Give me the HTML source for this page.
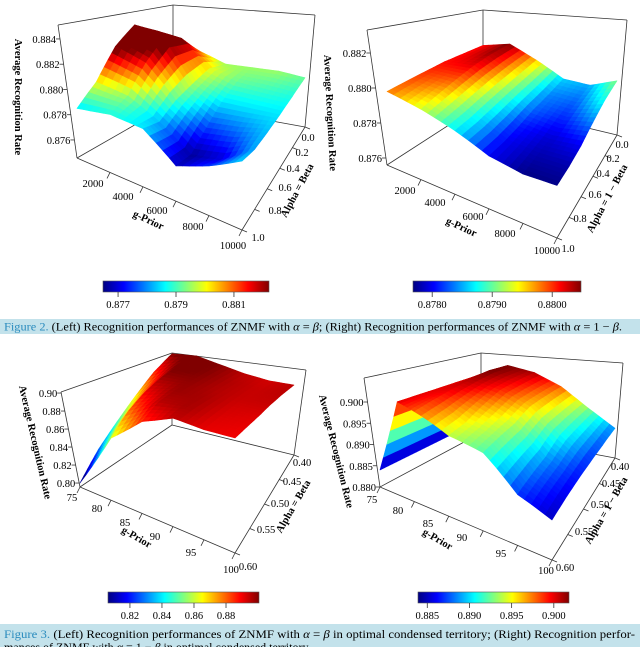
<!DOCTYPE html>
<html><head><meta charset="utf-8"><style>
html,body{margin:0;padding:0;background:#fff;}
svg{display:block;font-family:"Liberation Serif","Times New Roman",serif;}
text{font-family:"Liberation Serif","Times New Roman",serif;}
</style></head><body>
<svg id="fig" width="640" height="647" viewBox="0 0 640 647" xmlns="http://www.w3.org/2000/svg">
<defs>
<linearGradient id="jetgrad" x1="0" x2="1" y1="0" y2="0">
<stop offset="0" stop-color="#000080"/><stop offset="0.125" stop-color="#0000ff"/><stop offset="0.375" stop-color="#00ffff"/><stop offset="0.625" stop-color="#ffff00"/><stop offset="0.875" stop-color="#ff0000"/><stop offset="1" stop-color="#800000"/>
</linearGradient>
</defs>
<rect width="640" height="647" fill="#fff"/>
<g id="layer"></g>
<rect x="0" y="319" width="640" height="15" fill="#c3e2eb"/>
<text x="4" y="330.5" font-size="12" textLength="618" lengthAdjust="spacingAndGlyphs"><tspan fill="#2b8cbe">Figure 2.</tspan> (Left) Recognition performances of ZNMF with <tspan font-style="italic">α</tspan> = <tspan font-style="italic">β</tspan>; (Right) Recognition performances of ZNMF with <tspan font-style="italic">α</tspan> = 1 − <tspan font-style="italic">β</tspan>.</text>
<rect x="0" y="624" width="640" height="23" fill="#c3e2eb"/>
<text x="4" y="638" font-size="12" textLength="631" lengthAdjust="spacingAndGlyphs"><tspan fill="#2b8cbe">Figure 3.</tspan> (Left) Recognition performances of ZNMF with <tspan font-style="italic">α</tspan> = <tspan font-style="italic">β</tspan> in optimal condensed territory; (Right) Recognition perfor-</text>
<text x="4" y="651" font-size="12">mances of ZNMF with <tspan font-style="italic">α</tspan> = 1 − <tspan font-style="italic">β</tspan> in optimal condensed territory.</text>
</svg>
<script>
// ===== Panel data =====
const p1G = [0, 2000, 4000, 6000, 8000, 10000];
const p1A = [0, 0.2, 0.4, 0.6, 0.8, 1.0];
const p1Z = [
 [0.8800, 0.8805, 0.8795, 0.8795, 0.8795, 0.8792],
 [0.8830, 0.8825, 0.8800, 0.8792, 0.8790, 0.8788],
 [0.8840, 0.8830, 0.8795, 0.8785, 0.8785, 0.8785],
 [0.8825, 0.8815, 0.8790, 0.8775, 0.8778, 0.8783],
 [0.8800, 0.8795, 0.8782, 0.8766, 0.8770, 0.8782],
 [0.8785, 0.8788, 0.8785, 0.8768, 0.8775, 0.8784]];
const p1ZTicks = [0.876, 0.878, 0.880, 0.882, 0.884];
const p1CbTicks = [0.877, 0.879, 0.881];

const p2G = [0, 2000, 4000, 6000, 8000, 10000];
const p2A = [0, 0.2, 0.4, 0.6, 0.8, 1.0];
const p2Z = [
 [0.8801, 0.8805, 0.8796, 0.8786, 0.8785, 0.8791],
 [0.8801, 0.8804, 0.8794, 0.8784, 0.8783, 0.8788],
 [0.8801, 0.8802, 0.8792, 0.8783, 0.8781, 0.8784],
 [0.8800, 0.8799, 0.8790, 0.8781, 0.8779, 0.8780],
 [0.8799, 0.8796, 0.8788, 0.8780, 0.8778, 0.8778],
 [0.8798, 0.8793, 0.8787, 0.8780, 0.8777, 0.8777]];
const p2ZTicks = [0.876, 0.878, 0.880, 0.882];
const p2CbTicks = [0.8780, 0.8790, 0.8800];

const p3G = [75, 80, 85, 90, 95, 100];
const p3A = [0.40, 0.44, 0.48, 0.52, 0.56, 0.60];
const p3Z = [
 [0.900, 0.905, 0.900, 0.895, 0.893, 0.895],
 [0.885, 0.903, 0.900, 0.896, 0.894, 0.895],
 [0.865, 0.898, 0.899, 0.896, 0.894, 0.894],
 [0.845, 0.890, 0.898, 0.897, 0.893, 0.892],
 [0.825, 0.878, 0.895, 0.897, 0.892, 0.891],
 [0.800, 0.860, 0.885, 0.895, 0.891, 0.890]];
const p3ZTicks = [0.80, 0.82, 0.84, 0.86, 0.88, 0.90];
const p3CbTicks = [0.82, 0.84, 0.86, 0.88];

const p4G = [75, 77.5, 80, 85, 90, 95, 100];
const p4A = [0.40, 0.44, 0.48, 0.52, 0.56, 0.60];
const p4Z = [
 [0.884, 0.899, 0.902, 0.901, 0.898, 0.893, 0.8885],
 [0.884, 0.900, 0.902, 0.900, 0.897, 0.892, 0.8875],
 [0.884, 0.900, 0.901, 0.899, 0.896, 0.891, 0.8868],
 [0.884, 0.900, 0.900, 0.897, 0.894, 0.889, 0.8862],
 [0.884, 0.900, 0.899, 0.895, 0.893, 0.888, 0.8856],
 [0.884, 0.900, 0.898, 0.894, 0.892, 0.887, 0.8850]];
const p4ZTicks = [0.880, 0.885, 0.890, 0.895, 0.900];
const p4CbTicks = [0.885, 0.890, 0.895, 0.900];

const panels = [
 {id:'p1', G:p1G, A:p1A, Z:p1Z, zt:p1ZTicks, cbt:p1CbTicks, zfmt:3, cbfmt:3,
  FL:[77,158], FR:[242,230], BR:[305,127], BL:[173,103], S:[12625,18000,10640,9300], zf:0.87457,
  top:{FL:[58,25], BL:[173,5], BR:[315,15]}, cmin:0.87648, cmax:0.88221, cb:[103,281,166,11],
  title:[15,97,90], gLab:[147,223,25], aLab:[300,192,-62], aText:'Alpha = Beta',
  gTickLab:[[93,183],[123,196],[157,210],[193,226],[233,245]], gTickVals:['2000','4000','6000','8000','10000'], gTickAt:[2000,4000,6000,8000,10000],
  aTickLab:[[308,137],[302,152],[293,168],[285,187],[275,210],[258,237]], aTickVals:['0.0','0.2','0.4','0.6','0.8','1.0'], aTickAt:[0,0.2,0.4,0.6,0.8,1.0]},
 {id:'p2', G:p2G, A:p2A, Z:p2Z, zt:p2ZTicks, cbt:p2CbTicks, zfmt:3, cbfmt:4,
  FL:[387,165], FR:[557,238], BR:[617,135], BL:[483,103], S:[17500,25000,15500,12800], zf:0.8756,
  top:{FL:[367,30], BL:[483,10], BR:[627,20]}, cmin:0.87768, cmax:0.88048, cb:[413,281,168,11],
  title:[327,113,87], gLab:[460,230,25], aLab:[610,200,-62], aText:'Alpha = 1 − Beta',
  gTickLab:[[405,190],[435,202],[473,216],[505,233],[547,250]], gTickVals:['2000','4000','6000','8000','10000'], gTickAt:[2000,4000,6000,8000,10000],
  aTickLab:[[622,144],[613,158],[603,173],[595,194],[580,218],[568,248]], aTickVals:['0.0','0.2','0.4','0.6','0.8','1.0'], aTickAt:[0,0.2,0.4,0.6,0.8,1.0]},
 {id:'p3', G:p3G, A:p3A, Z:p3Z, zt:p3ZTicks, cbt:p3CbTicks, zfmt:2, cbfmt:2,
  FL:[80,487], FR:[235,553], BR:[294,455], BL:[172,425], S:[900,1218,704,682], zf:0.7956,
  top:{FL:[61,392], BL:[172,353], BR:[306,370]}, cmin:0.8063, cmax:0.9006, cb:[108,592,151,11],
  title:[32,443,77], gLab:[135,540,30], aLab:[296,508,-60], aText:'Alpha = Beta',
  gTickLab:[[72,497],[97,508],[125,522],[155,536],[191,552],[231,569]], gTickVals:['75','80','85','90','95','100'], gTickAt:[75,80,85,90,95,100],
  aTickLab:[[302,462],[292,481],[280,503],[266,529],[248,566]], aTickVals:['0.40','0.45','0.50','0.55','0.60'], aTickAt:[0.40,0.45,0.50,0.55,0.60]},
 {id:'p4', G:p4G, A:p4A, Z:p4Z, zt:p4ZTicks, cbt:p4CbTicks, zfmt:3, cbfmt:3,
  FL:[380,487], FR:[552,560], BR:[615,458], BL:[481,433], S:[4250,8000,3500,3250], zf:0.880,
  top:{FL:[364,378], BL:[481,353], BR:[623,363]}, cmin:0.8839, cmax:0.9018, cb:[418,592,151,11],
  title:[333,452,76], gLab:[436,542,30], aLab:[609,512,-60], aText:'Alpha = 1 − Beta',
  gTickLab:[[372,499],[398,510],[428,523],[462,537],[501,553],[546,570]], gTickVals:['75','80','85','90','95','100'], gTickAt:[75,80,85,90,95,100],
  aTickLab:[[620,466],[611,483],[600,504],[584,531],[565,567]], aTickVals:['0.40','0.45','0.50','0.55','0.60'], aTickAt:[0.40,0.45,0.50,0.55,0.60]}
];

const NS = 'http://www.w3.org/2000/svg';
const layer = document.getElementById('layer');
function mk(tag, attrs, parent){ const e=document.createElementNS(NS,tag); for(const k in attrs) e.setAttribute(k,attrs[k]); (parent||layer).appendChild(e); return e; }
function clamp(x){return x<0?0:x>1?1:x;}
function jet(t){ t=clamp(t); const r=clamp(1.5-Math.abs(4*t-3)), g=clamp(1.5-Math.abs(4*t-2)), b=clamp(1.5-Math.abs(4*t-1));
  return 'rgb('+Math.round(r*255)+','+Math.round(g*255)+','+Math.round(b*255)+')'; }

function makeProj(P){
  const gmin=P.G[0], gmax=P.G[P.G.length-1];
  const amin=Math.min(P.A[0],P.A[P.A.length-1]), amax=Math.max(P.A[0],P.A[P.A.length-1]);
  const floor=function(g,a){
    const u=(g-gmin)/(gmax-gmin), v=(amax-a)/(amax-amin);
    const w=[(1-u)*(1-v), u*(1-v), u*v, (1-u)*v];
    const C=[P.FL,P.FR,P.BR,P.BL];
    let x=0,y=0,s=0; for(let i=0;i<4;i++){x+=w[i]*C[i][0]; y+=w[i]*C[i][1]; s+=w[i]*P.S[i];}
    return [x,y,s];
  };
  return function(g,a,z){ const f=floor(g,a); return [f[0], f[1]-(z-P.zf)*f[2], f[1]]; };
}

const FS = 10.5;
panels.forEach(function(P){
  const grp = mk('g',{});
  
  
  const proj = makeProj(P);
  const ln = function(a,b,name){ const l=mk('line',{x1:a[0],y1:a[1],x2:b[0],y2:b[1],stroke:'#333','stroke-width':0.8},grp);
    
     };
  ln(P.FL,P.FR,'floor-front-edge'); ln(P.FR,P.BR,'floor-right-edge'); ln(P.BR,P.BL,'floor-back-edge'); ln(P.BL,P.FL,'floor-left-edge');
  ln(P.top.FL,P.FL,'z-axis-line'); ln(P.top.BL,P.BL,'box-back-vertical'); ln(P.top.BR,P.BR,'box-right-vertical');
  ln(P.top.FL,P.top.BL,'box-top-left-edge'); ln(P.top.BL,P.top.BR,'box-top-right-edge');
  const quads=[]; const N=5;
  for(let i=0;i<P.A.length-1;i++){ for(let j=0;j<P.G.length-1;j++){
    const z00=P.Z[i][j], z01=P.Z[i][j+1], z10=P.Z[i+1][j], z11=P.Z[i+1][j+1];
    for(let si=0;si<N;si++){ for(let sj=0;sj<N;sj++){
      const pts=[[si,sj],[si,sj+1],[si+1,sj+1],[si+1,sj]].map(function(q){
        const s=q[0]/N, t=q[1]/N;
        const a=P.A[i]+(P.A[i+1]-P.A[i])*s, g=P.G[j]+(P.G[j+1]-P.G[j])*t;
        const z=(1-s)*(1-t)*z00+(1-s)*t*z01+s*(1-t)*z10+s*t*z11;
        return {p:proj(g,a,z), z:z};
      });
      const zc=(pts[0].z+pts[1].z+pts[2].z+pts[3].z)/4;
      const depth=(pts[0].p[2]+pts[1].p[2]+pts[2].p[2]+pts[3].p[2])/4;
      quads.push({pts:pts, zc:zc, depth:depth});
    }}
  }}
  quads.sort(function(a,b){return a.depth-b.depth;});
  const surf = mk('g',{},grp);
  
  
  quads.forEach(function(q){
    const c=jet((q.zc-P.cmin)/(P.cmax-P.cmin));
    const poly=mk('polygon',{points:q.pts.map(function(o){return o.p[0].toFixed(1)+','+o.p[1].toFixed(1);}).join(' '),fill:c,stroke:c,'stroke-width':0.6,'stroke-linejoin':'round'},surf);
    
    
  });
  const fx0=P.top.FL[0], fy0=P.top.FL[1], fx1=P.FL[0], fy1=P.FL[1];
  P.zt.forEach(function(z){
    const y=P.FL[1]-(z-P.zf)*P.S[0];
    const x=fx0+(fx1-fx0)*(y-fy0)/(fy1-fy0);
    const tk=mk('line',{x1:x-4,y1:y,x2:x,y2:y,stroke:'#333','stroke-width':0.8},grp);
    
    
    const tx=mk('text',{x:x-4,y:y+4,'text-anchor':'end','font-size':FS},grp);
    tx.textContent=z.toFixed(P.zfmt);
    
    
  });
  const amaxv=Math.max(P.A[0],P.A[P.A.length-1]);
  P.gTickAt.forEach(function(g,k){
    const p=proj(g,amaxv,P.zf);
    const tk=mk('line',{x1:p[0],y1:p[1],x2:p[0]-3,y2:p[1]+6,stroke:'#333','stroke-width':0.8},grp);
    
    
    const tx=mk('text',{x:P.gTickLab[k][0],y:P.gTickLab[k][1]+4,'text-anchor':'middle','font-size':FS},grp);
    tx.textContent=P.gTickVals[k];
    
    
  });
  const gmaxv=P.G[P.G.length-1];
  P.aTickAt.forEach(function(a,k){
    const p=proj(gmaxv,a,P.zf);
    const tk=mk('line',{x1:p[0],y1:p[1],x2:p[0]+5,y2:p[1]+2,stroke:'#333','stroke-width':0.8},grp);
    
    
    const tx=mk('text',{x:P.aTickLab[k][0],y:P.aTickLab[k][1]+4,'text-anchor':'middle','font-size':FS},grp);
    tx.textContent=P.aTickVals[k];
    
    
  });
  let t=mk('text',{x:0,y:0,'text-anchor':'middle','font-size':10.5,'font-weight':'bold',transform:'translate('+P.title[0]+','+P.title[1]+') rotate('+P.title[2]+')'},grp);
  t.textContent='Average Recognition Rate';
  
  
  t=mk('text',{x:0,y:0,'text-anchor':'middle','font-size':10.5,'font-weight':'bold',transform:'translate('+P.gLab[0]+','+P.gLab[1]+') rotate('+P.gLab[2]+')'},grp);
  t.textContent='g-Prior';
  
  
  t=mk('text',{x:0,y:0,'text-anchor':'middle','font-size':10.5,'font-weight':'bold',transform:'translate('+P.aLab[0]+','+P.aLab[1]+') rotate('+P.aLab[2]+')'},grp);
  t.textContent=P.aText;
  
  
  const cb=P.cb;
  const r=mk('rect',{x:cb[0],y:cb[1],width:cb[2],height:cb[3],fill:'url(#jetgrad)',stroke:'#555','stroke-width':0.6},grp);
  
  
  P.cbt.forEach(function(v){
    const x=cb[0]+(v-P.cmin)/(P.cmax-P.cmin)*cb[2];
    const tk=mk('line',{x1:x,y1:cb[1]+cb[3],x2:x,y2:cb[1]+cb[3]+5,stroke:'#333','stroke-width':0.8},grp);
    
    
    const tx=mk('text',{x:x,y:cb[1]+cb[3]+16,'text-anchor':'middle','font-size':FS},grp);
    tx.textContent=v.toFixed(P.cbfmt);
    
    
  });
});
</script>
</body></html>
